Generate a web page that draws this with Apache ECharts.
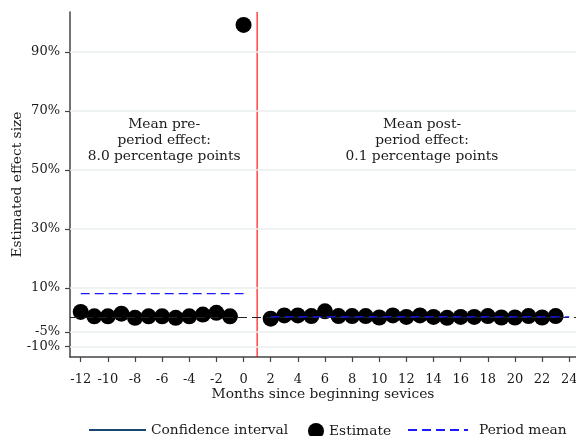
<!DOCTYPE html>
<html>
<head>
<meta charset="utf-8">
<script src="https://cdn.jsdelivr.net/npm/echarts@6/dist/echarts.min.js"></script>
<style>html,body{margin:0;padding:0;background:#fff}#c{width:576px;height:436px}</style>
</head>
<body>
<div id="c"></div>
<script>
// ---- data ----
const estMonths = [-12,-11,-10,-9,-8,-7,-6,-5,-4,-3,-2,-1,0,2,3,4,5,6,7,8,9,10,11,12,13,14,15,16,17,18,19,20,21,22,23];
const estValues = [1.8,0.3,0.3,1.2,-0.2,0.3,0.3,-0.2,0.3,0.9,1.5,0.3,99.2,-0.5,0.6,0.6,0.4,2.0,0.4,0.4,0.4,-0.1,0.6,0.1,0.6,0.1,-0.2,0.1,0.1,0.4,-0.1,-0.1,0.4,-0.1,0.4];
const preMeanRange = [-12, 0];
const preMean = 8.0;
const postMeanRange = [2, 24];
const postMean = 0.1;
const treatMonth = 1;
const xTicks = [-12,-10,-8,-6,-4,-2,0,2,4,6,8,10,12,14,16,18,20,22,24];
const yTicks = [-10,-5,10,30,50,70,90];
const notePre = ['Mean pre-','period effect:','8.0 percentage points'];
const notePost = ['Mean post-','period effect:','0.1 percentage points'];
const notePrePos = [-5.85, 60];
const notePostPos = [13.15, 60];

const FONT = 'DejaVu Serif';
const TXT = '#1a1a1a';
const FS = 13.8;
const Y_MIN = -13.5, Y_MAX = 103.6;
const chart = echarts.init(document.getElementById('c'));
const estData = estMonths.map((m,i)=>[m, estValues[i]]);

chart.setOption({
  animation: false,
  textStyle: {fontFamily: FONT},
  grid: {left: 70, right: 0, top: 12, bottom: 79, containLabel: false, outerBoundsMode: 'none'},
  xAxis: {
    type: 'value', min: -12.79, max: 24.5,
    name: 'Months since beginning sevices', nameLocation: 'middle', nameGap: 30, nameMoveOverlap: false,
    nameTextStyle: {fontFamily: FONT, fontSize: FS, color: TXT},
    axisLine: {show: true, onZero: false, lineStyle: {color: '#444', width: 1.5}},
    axisTick: {show: true, length: 5, customValues: xTicks, lineStyle: {color: '#444', width: 1.2}},
    axisLabel: {customValues: xTicks, margin: 16, fontFamily: FONT, fontSize: 13, color: TXT},
    splitLine: {show: false}
  },
  yAxis: {
    type: 'value', min: Y_MIN, max: Y_MAX,
    name: 'Estimated effect size', nameLocation: 'middle', nameGap: 46, nameRotate: 90, nameMoveOverlap: false,
    nameTextStyle: {fontFamily: FONT, fontSize: FS, color: TXT},
    axisLine: {show: true, onZero: false, lineStyle: {color: '#444', width: 1.5}},
    axisTick: {show: true, length: 5, customValues: yTicks, lineStyle: {color: '#444', width: 1.2}},
    axisLabel: {customValues: yTicks, margin: 10, fontFamily: FONT, fontSize: 13, color: TXT, formatter: v => v + '%'},
    splitLine: {show: false}
  },
  legend: [
    {data: ['Confidence interval'], left: 83, top: 418, itemWidth: 57, itemHeight: 16, itemStyle: {opacity: 0},
      textStyle: {fontFamily: FONT, fontSize: FS, color: TXT}},
    {data: ['Estimate'], left: 303, top: 418, itemWidth: 16, itemHeight: 16,
      textStyle: {fontFamily: FONT, fontSize: FS, color: TXT}},
    {data: ['Period mean'], left: 402, top: 418, itemWidth: 60, itemHeight: 16, itemStyle: {opacity: 0},
      textStyle: {fontFamily: FONT, fontSize: FS, color: TXT, padding: [0,0,0,6]}}
  ],
  series: [
    {
      name: 'grid', type: 'line', data: [], silent: true, z: 1,
      markLine: {silent: true, symbol: 'none', label: {show: false},
        lineStyle: {color: '#e8efee', width: 1.5, type: 'solid'},
        data: yTicks.map(v => ({yAxis: v}))}
    },
    {
      name: 'zero', type: 'line', data: [], silent: true, z: 2,
      markLine: {silent: true, symbol: 'none', label: {show: false},
        lineStyle: {color: '#222', width: 1.2, type: [9,5]},
        data: [{yAxis: 0}]}
    },
    {
      name: 'treat', type: 'line', silent: true, z: 2, symbol: 'none', color: '#ff0000',
      lineStyle: {color: '#ff0000', width: 1.1, type: 'solid'},
      data: [[treatMonth, Y_MIN], [treatMonth, Y_MAX]]
    },
    {name: 'Confidence interval', type: 'line', data: [], symbol: 'none', color: '#1a476f', lineStyle: {color: '#1a476f', width: 1.2}},
    {name: 'Estimate', type: 'scatter', data: estData, symbol: 'circle', symbolSize: 16, itemStyle: {color: '#000', opacity: 1}, z: 3},
    {name: 'Period mean', type: 'line', symbol: 'none', color: '#1a1aff', z: 5,
      lineStyle: {color: '#1a1aff', width: 1.3, type: [9,5]},
      data: [[preMeanRange[0], preMean], [preMeanRange[1], preMean]]},
    {name: 'Period mean', type: 'line', symbol: 'none', color: '#1a1aff', z: 5,
      lineStyle: {color: '#1a1aff', width: 1.3, type: [9,5]},
      data: [[postMeanRange[0], postMean], [postMeanRange[1], postMean]]},
    {name: 'notes', type: 'scatter', symbolSize: 0, silent: true, z: 6,
      itemStyle: {opacity: 1},
      label: {show: true, position: 'inside', fontFamily: FONT, fontSize: FS, color: TXT, lineHeight: 16, align: 'center',
        formatter: p => p.dataIndex === 0 ? notePre.join('\n') : notePost.join('\n')},
      data: [notePrePos, notePostPos]}
  ]
});
</script>
</body>
</html>
